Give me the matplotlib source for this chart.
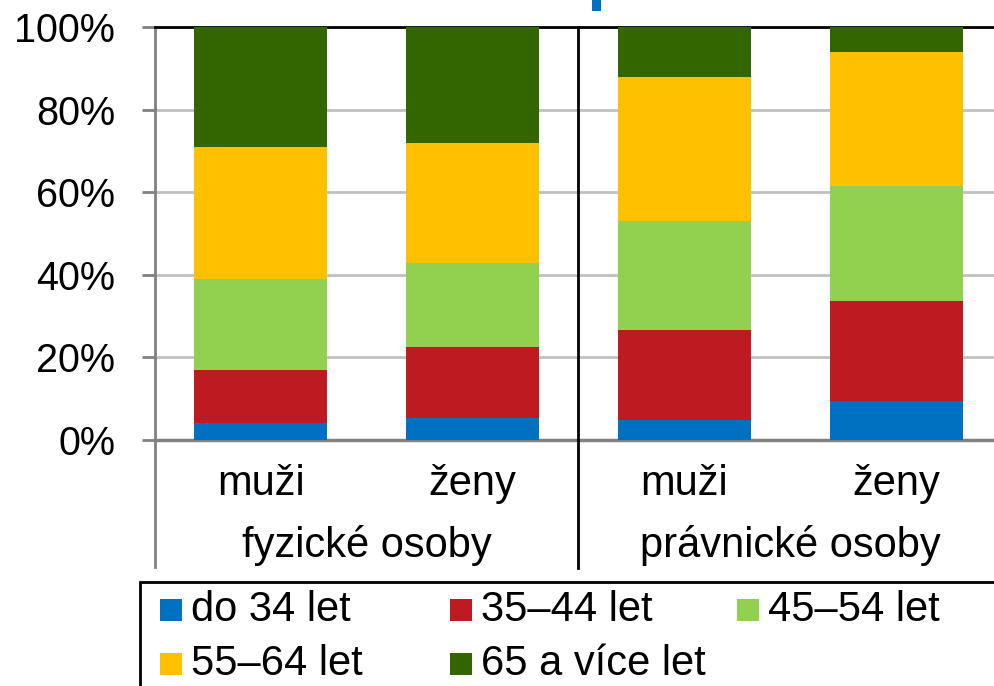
import matplotlib
matplotlib.use("Agg")
import matplotlib.pyplot as plt
from matplotlib.patches import Rectangle
from matplotlib.lines import Line2D
import numpy as np

plt.rcParams['font.family'] = ['Liberation Sans', 'DejaVu Sans']

# ---- data ----
bar_labels = ["muži", "ženy", "muži", "ženy"]
group_labels = ["fyzické osoby", "právnické osoby"]
series_names = ["do 34 let", "35–44 let", "45–54 let", "55–64 let", "65 a více let"]
s_do34 = [4.0, 5.4, 4.8, 9.4]
s_35_44 = [13.0, 17.2, 21.9, 24.3]
s_45_54 = [21.9, 20.2, 26.4, 27.8]
s_55_64 = [32.0, 29.2, 34.7, 32.4]
s_65 = [29.1, 28.0, 12.2, 6.1]
y_ticks = [0, 20, 40, 60, 80, 100]
y_tick_labels = ["0%", "20%", "40%", "60%", "80%", "100%"]

colors = ["#0070C0", "#BE1A22", "#92D050", "#FFC000", "#336600"]

W, H = 995, 686
fig = plt.figure(figsize=(W / 100, H / 100), dpi=100)

def fx(px):
    return px / W

def fy(py):
    return 1 - py / H

ax_left, ax_right, ax_top, ax_bottom = 155, 1002, 27, 440
ax = fig.add_axes([fx(ax_left), fy(ax_bottom), fx(ax_right - ax_left), (ax_bottom - ax_top) / H])

series = [s_do34, s_35_44, s_45_54, s_55_64, s_65]
x = np.arange(len(bar_labels))
bottom = np.zeros(len(bar_labels))
for vals, col in zip(series, colors):
    ax.bar(x, vals, bottom=bottom, width=0.628, color=col, zorder=3, linewidth=0)
    bottom += np.array(vals)

ax.set_xlim(-0.5, 3.5)
ax.set_ylim(0, 100)
ax.set_yticks(y_ticks)
ax.set_yticklabels(y_tick_labels, fontsize=28.5)
ax.tick_params(axis='y', length=9.4, width=2, color='#808080', pad=19.4, direction='out')
ax.set_xticks([])
ax.grid(axis='y', color='#C0C0C0', linewidth=2, zorder=0)
ax.spines['right'].set_visible(False)
ax.spines['top'].set_color('black')
ax.spines['top'].set_linewidth(2)
ax.spines['left'].set_color('#808080')
ax.spines['left'].set_linewidth(2)
ax.spines['bottom'].set_color('#808080')
ax.spines['bottom'].set_linewidth(2.5)

# extended left line and separator
fig.add_artist(Line2D([fx(155), fx(155)], [fy(440), fy(567)], color='#808080', lw=2))
fig.add_artist(Line2D([fx(578), fx(578)], [fy(27), fy(568)], color='black', lw=2))

# category labels
for i, lab in enumerate(bar_labels):
    ax.text(i, -10.6, lab, ha='center', va='center', fontsize=30,
            transform=ax.transData, clip_on=False)
for g, lab in enumerate(group_labels):
    ax.text(0.5 + 2 * g, -25.6, lab, ha='center', va='center', fontsize=30,
            transform=ax.transData, clip_on=False)

# stray blue mark at top
fig.add_artist(Rectangle((fx(592), fy(11)), fx(9), 11 / H, color='#0070C0', lw=0))

# legend
fig.add_artist(Rectangle((fx(140), fy(700)), fx(870), 118 / H, fill=False,
                         edgecolor='black', lw=2))
positions = [(160, 610), (450, 610), (737, 610), (160, 664), (450, 664)]
for (px, py), name, col in zip(positions, series_names, colors):
    fig.add_artist(Rectangle((fx(px), fy(py + 11)), fx(22), 22 / H, color=col, lw=0))
    fig.text(fx(px + 31), fy(py), name, ha='left', va='center', fontsize=30)

fig.savefig("out.png", dpi=100)
